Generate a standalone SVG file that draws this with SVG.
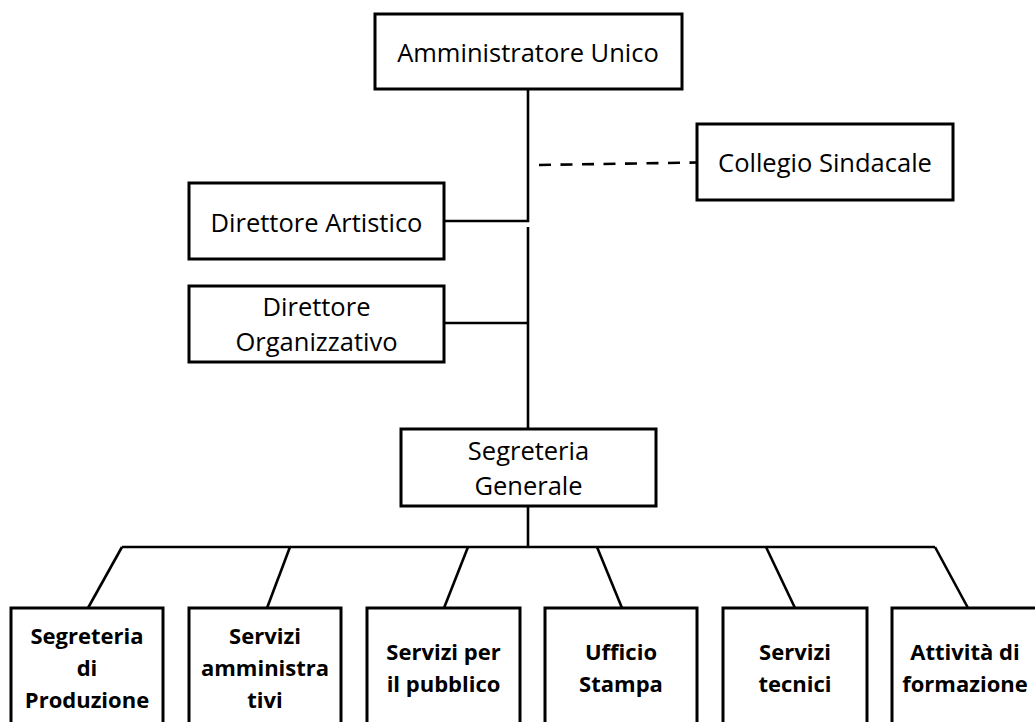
<svg xmlns="http://www.w3.org/2000/svg" width="1035" height="722" viewBox="0 0 1035 722">
  <style>
    .box { fill: #ffffff; stroke: #000000; stroke-width: 3; }
    .line { fill: none; stroke: #000000; stroke-width: 2.6; stroke-linecap: butt; }
    .dash { fill: none; stroke: #000000; stroke-width: 2.6; stroke-dasharray: 12 9.5; }
    .t { font-family: "Open Sans", "Noto Sans", "Liberation Sans", sans-serif; font-size: 25.5px; fill: #000000; text-anchor: middle; }
    .b { font-family: "Open Sans", "Noto Sans", "Liberation Sans", sans-serif; font-size: 22px; font-weight: bold; fill: #000000; text-anchor: middle; }
  </style>
  <rect x="0" y="0" width="1035" height="722" fill="#ffffff"/>

  <!-- connectors -->
  <g id="connectors">
    <polyline class="line" points="528,89 528,221 444,221"/>
    <line class="line" x1="528" y1="227" x2="528" y2="429"/>
    <line class="line" x1="444" y1="323" x2="528" y2="323"/>
    <line class="dash" x1="539" y1="165" x2="697" y2="162.5"/>
    <line class="line" x1="528" y1="506" x2="528" y2="547"/>
    <line class="line" x1="122" y1="547" x2="935" y2="547"/>
    <line class="line" x1="122" y1="547" x2="88" y2="608"/>
    <line class="line" x1="290" y1="547" x2="267" y2="608"/>
    <line class="line" x1="468" y1="547" x2="444" y2="608"/>
    <line class="line" x1="597" y1="547" x2="622" y2="608"/>
    <line class="line" x1="766" y1="547" x2="795" y2="608"/>
    <line class="line" x1="935" y1="547" x2="968" y2="608"/>
  </g>

  <g id="amministratore-unico">
    <rect class="box" x="375" y="14" width="307" height="75"/>
    <text class="t" x="528" y="62">Amministratore Unico</text>
  </g>

  <g id="collegio-sindacale">
    <rect class="box" x="697" y="124" width="256" height="76"/>
    <text class="t" x="825" y="172">Collegio Sindacale</text>
  </g>

  <g id="direttore-artistico">
    <rect class="box" x="189" y="183" width="255" height="76"/>
    <text class="t" x="316.5" y="232">Direttore Artistico</text>
  </g>

  <g id="direttore-organizzativo">
    <rect class="box" x="189" y="286" width="255" height="76"/>
    <text class="t" x="316.5" y="316">Direttore</text>
    <text class="t" x="316.5" y="351">Organizzativo</text>
  </g>

  <g id="segreteria-generale">
    <rect class="box" x="401" y="429" width="255" height="77"/>
    <text class="t" x="528.5" y="460">Segreteria</text>
    <text class="t" x="528.5" y="495">Generale</text>
  </g>

  <g id="segreteria-produzione">
    <rect class="box" x="11" y="608" width="152" height="130"/>
    <text class="b" x="87" y="644">Segreteria</text>
    <text class="b" x="87" y="676">di</text>
    <text class="b" x="87" y="708">Produzione</text>
  </g>

  <g id="servizi-amministrativi">
    <rect class="box" x="189" y="608" width="152" height="130"/>
    <text class="b" x="265" y="644">Servizi</text>
    <text class="b" x="265" y="676">amministra</text>
    <text class="b" x="265" y="708">tivi</text>
  </g>

  <g id="servizi-pubblico">
    <rect class="box" x="367" y="608" width="153" height="130"/>
    <text class="b" x="443.5" y="660">Servizi per</text>
    <text class="b" x="443.5" y="692">il pubblico</text>
  </g>

  <g id="ufficio-stampa">
    <rect class="box" x="545" y="608" width="152" height="130"/>
    <text class="b" x="621" y="660">Ufficio</text>
    <text class="b" x="621" y="692">Stampa</text>
  </g>

  <g id="servizi-tecnici">
    <rect class="box" x="723" y="608" width="144" height="130"/>
    <text class="b" x="795" y="660">Servizi</text>
    <text class="b" x="795" y="692">tecnici</text>
  </g>

  <g id="attivita-formazione">
    <rect class="box" x="892" y="608" width="146" height="130"/>
    <text class="b" x="965" y="660">Attività di</text>
    <text class="b" x="965" y="692">formazione</text>
  </g>
</svg>
